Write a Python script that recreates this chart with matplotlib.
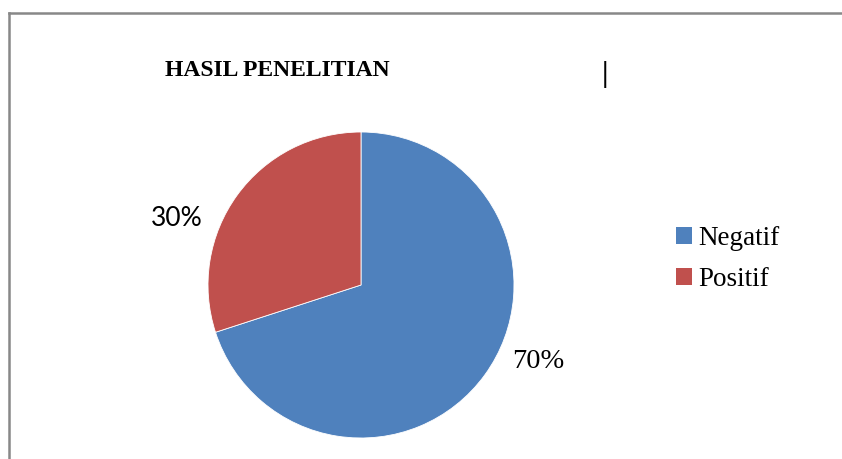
import matplotlib
matplotlib.use("Agg")
import matplotlib.pyplot as plt
from matplotlib.patches import Patch
from matplotlib.lines import Line2D

categories = ["Negatif", "Positif"]
values = [70, 30]
pct_labels = ["70%", "30%"]
colors = ["#4F81BD", "#C0504D"]
title = "HASIL PENELITIAN"

W, H = 842, 459
fig = plt.figure(figsize=(W / 100, H / 100), dpi=100)

# frame lines (top and left)
fig.add_artist(Line2D([9 / W, 1], [1 - 13 / H, 1 - 13 / H], color="#888888", lw=1.8))
fig.add_artist(Line2D([9 / W, 9 / W], [0, 1 - 13 / H], color="#888888", lw=1.8))

cx, cy, r = 361, 285, 153
ax = fig.add_axes([(cx - r) / W, (H - cy - r) / H, 2 * r / W, 2 * r / H])
ax.pie(values, colors=colors, startangle=90, counterclock=False,
       wedgeprops=dict(edgecolor="white", linewidth=0.6), radius=1)
ax.set_xlim(-1, 1)
ax.set_ylim(-1, 1)
ax.set_aspect("equal")
ax.axis("off")

serif = ["Liberation Serif", "DejaVu Serif"]
ax.text((538 - cx) / r, (cy - 361) / r, pct_labels[0], ha="center", va="center",
        fontsize=20.5, family=serif)
ax.text((177 - cx) / r, (cy - 218) / r, pct_labels[1], ha="center", va="center",
        fontsize=19, family=["Lato", "DejaVu Sans"])

fig.text(165 / W, 1 - 70 / H, title, ha="left", va="center", fontsize=17,
         fontweight="bold", family=serif)
fig.text(605 / W, 1 - 75 / H, "|", ha="center", va="center", fontsize=21,
         fontweight="bold", family=serif)

handles = [Patch(facecolor=c, edgecolor="none") for c in colors]
leg = fig.legend(handles, categories, loc="upper left",
                 bbox_to_anchor=(676 / W, 1 - 226 / H), frameon=False,
                 borderpad=0, borderaxespad=0,
                 prop=dict(family=serif, size=19.5), handlelength=0.58,
                 handleheight=0.58, handletextpad=0.25, labelspacing=0.58)

fig.savefig("out.png", dpi=100, facecolor="white")
